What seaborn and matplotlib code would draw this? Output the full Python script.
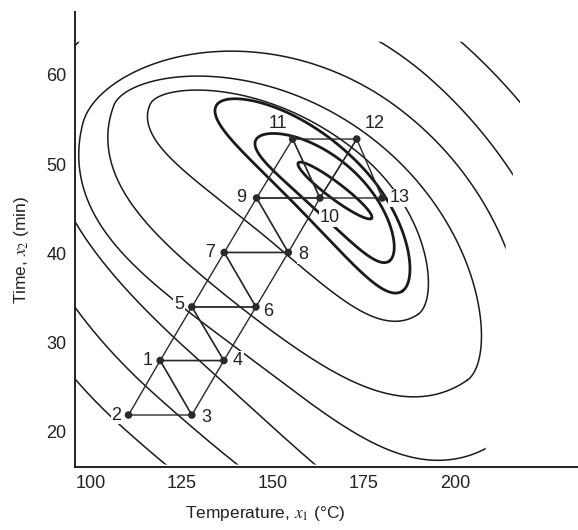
import matplotlib

matplotlib.use("Agg")

import matplotlib.pyplot as plt
import numpy as np
import pandas as pd
import seaborn as sns
from matplotlib.patches import Polygon

# simplex vertices, in run order 1..13
point_id = list(range(1, 14))
temperature = [119.0, 110.3, 127.7, 136.5, 127.7, 145.3, 136.6, 154.2, 145.5, 162.9, 155.4, 173.0, 180.0]
time_min = [28.0, 21.9, 21.9, 28.0, 34.0, 34.0, 40.1, 40.1, 46.2, 46.2, 52.8, 52.8, 46.2]
simplexes = [(1, 2, 3), (1, 3, 4), (1, 4, 5), (4, 5, 6), (5, 6, 7), (6, 7, 8),
             (7, 8, 9), (8, 9, 10), (9, 10, 11), (10, 11, 12), (10, 12, 13)]
# label offsets (pixels) from each vertex
label_dx = [-13, -12, 14, 14, -13, 12, -14, 15, -15, 10, -15, 18, 17]
label_dy = [0, 0, -2, 0, 2, -5, 0, -2, 0, -20, 16, 16, 0]

# response contours around the optimum, innermost first.
# reach from the optimum (in minutes of page length) towards NW, SE, NE and SW,
# tilt of the long axis below horizontal and how much it bends at the ends (deg)
peak_T, peak_t = 166.8, 47.1
reach_nw = [5.04, 10.41, 16.24, 22.73, 26.43, 29.12, 33.60, 38.00, 42.55]
reach_se = [5.26, 10.08, 13.66, 16.80, 26.00, 33.59, 44.79, 50.39, 58.23]
reach_ne = [0.90, 3.02, 4.03, 4.93, 7.17, 11.65, 16.46, 21.84, 28.00]
reach_sw = [0.90, 3.02, 4.26, 8.96, 16.80, 20.72, 24.30, 30.46, 35.61]
tilt = [37.0, 42.5, 46.0, 40.5, 38.0, 36.5, 42.0, 42.0, 42.0]
bend = [0.0, 9.5, 10.0, 15.5, 17.0, 21.5, 18.0, 14.0, 10.0]
heavy = [True, True, True, False, False, False, False, False, False]

DEG_PER_MIN = 2.453  # 1 min on the time axis is as long as 2.453 degC on the page

df = pd.DataFrame({"id": point_id, "T": temperature, "t": time_min})

sns.set_style("white")
plt.rcParams["font.family"] = ["Liberation Sans", "DejaVu Sans"]
plt.rcParams["mathtext.fontset"] = "stix"

fig = plt.figure(figsize=(5.78, 5.30), dpi=100)
ax = fig.add_axes([0.1298, 0.1189, 0.8702, 0.858])
ax.set_xlim(95.6, 233.8)
ax.set_ylim(16.08, 67.0)

clip = Polygon([(95.7, 16.35), (208.0, 16.35), (219.5, 63.7), (95.7, 63.7)],
               closed=True, transform=ax.transData)

phi = np.linspace(0, 2 * np.pi, 1441)
cph, sph = np.cos(phi), np.sin(phi)
for i in range(len(tilt)):
    p = np.where(cph > 0, reach_se[i], reach_nw[i]) * cph
    q = np.where(sph > 0, reach_ne[i], reach_sw[i]) * sph
    th = np.radians(tilt[i] + bend[i] * cph)
    X = p * np.cos(th) + q * np.sin(th)
    Y = -p * np.sin(th) + q * np.cos(th)
    line, = ax.plot(peak_T + DEG_PER_MIN * X, peak_t + Y, color="#1a1a1a",
                    lw=2.0 if heavy[i] else 1.1, zorder=2)
    line.set_clip_path(clip)

for tri in simplexes:
    idx = [k - 1 for k in tri] + [tri[0] - 1]
    ax.plot(df["T"].iloc[idx], df["t"].iloc[idx], color="#2a2a2a", lw=1.0, zorder=5)

sns.scatterplot(data=df, x="T", y="t", ax=ax, color="#2a2a2a", s=30,
                edgecolor="none", zorder=6, legend=False)

for i in range(len(df)):
    ax.annotate(str(point_id[i]), (temperature[i], time_min[i]),
                xytext=(label_dx[i], label_dy[i]), textcoords="offset pixels",
                ha="center", va="center", fontsize=13, color="#222222", zorder=4,
                bbox=dict(facecolor="white", edgecolor="none", pad=0.6))

ax.set_xticks([100, 125, 150, 175, 200])
ax.set_yticks([20, 30, 40, 50, 60])
ax.tick_params(direction="in", length=7, width=1.2, labelsize=13, pad=6,
               colors="#222222")
for side in ["top", "right"]:
    ax.spines[side].set_visible(False)
for side in ["left", "bottom"]:
    ax.spines[side].set_linewidth(1.4)
    ax.spines[side].set_color("#222222")

ax.set_xlabel(r"Temperature, $x_1$ (°C)", fontsize=12.5, color="#222222")
ax.set_ylabel(r"Time, $x_2$ (min)", fontsize=12.5, color="#222222")
ax.xaxis.set_label_coords(0.378, -0.082)
ax.yaxis.set_label_coords(-0.087, 0.477)

fig.savefig("out.png", dpi=100, facecolor="white")
